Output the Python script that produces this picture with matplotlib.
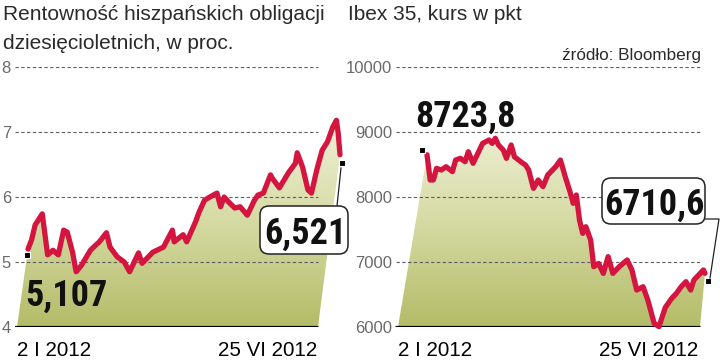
import matplotlib
matplotlib.use("Agg")
import matplotlib.pyplot as plt
import matplotlib.transforms as mtransforms
import numpy as np
from matplotlib.colors import LinearSegmentedColormap
from matplotlib.patches import Polygon, FancyBboxPatch
from matplotlib.lines import Line2D

W, H = 720, 362

# days counted from 2 I 2012
bond_days = [0, 2, 4, 8, 11, 14, 17, 20, 22, 25, 27, 30, 35, 38, 40, 44, 46, 50,
             54, 57, 62, 64, 70, 76, 81, 82, 87, 89, 94, 96, 99, 102, 106, 108,
             110, 113, 116, 119, 123, 127, 129, 132, 136, 137, 141, 146, 150,
             151, 154, 157, 159, 162, 165, 168, 171, 173, 174, 175]
bond_yield = [5.20, 5.34, 5.57, 5.74, 5.11, 5.18, 5.11, 5.49, 5.46, 5.15, 4.85,
              4.95, 5.18, 5.26, 5.31, 5.45, 5.23, 5.08, 5.00, 4.85, 5.14, 4.98,
              5.15, 5.23, 5.49, 5.31, 5.42, 5.31, 5.62, 5.77, 5.95, 6.00, 6.06,
              5.85, 6.00, 5.91, 5.83, 5.85, 5.72, 5.95, 6.03, 6.06, 6.34, 6.29,
              6.14, 6.37, 6.52, 6.68, 6.46, 6.11, 6.06, 6.42, 6.72, 6.85, 7.08,
              7.18, 6.98, 6.65]

ibex_days = [0, 2, 4, 6, 9, 12, 16, 18, 21, 24, 26, 29, 31, 35, 39, 41, 43, 45,
             48, 50, 53, 55, 59, 62, 64, 67, 70, 73, 76, 79, 81, 84, 87, 90, 92,
             94, 96, 98, 100, 103, 105, 108, 111, 114, 117, 121, 126, 129, 132,
             136, 139, 143, 146, 150, 154, 157, 160, 163, 166, 168, 171, 174, 175]
ibex_pts = [8650, 8262, 8262, 8441, 8415, 8466, 8390, 8569, 8595, 8543, 8697,
            8518, 8620, 8825, 8877, 8825, 8903, 8800, 8723, 8595, 8800, 8620,
            8543, 8492, 8415, 8133, 8262, 8159, 8338, 8415, 8466, 8569, 8313,
            8082, 7903, 8031, 7646, 7441, 7543, 7338, 6928, 6979, 6825, 7082,
            6825, 6928, 7031, 6877, 6569, 6620, 6415, 6056, 6005, 6300, 6440,
            6518, 6620, 6697, 6569, 6723, 6800, 6877, 6826]

bond_ticks = [4, 5, 6, 7, 8]
ibex_ticks = [6000, 7000, 8000, 9000, 10000]
bond_first, bond_last = "5,107", "6,521"
ibex_first, ibex_last = "8723,8", "6710,6"
bond_first_v, bond_last_v = 5.107, 6.521
ibex_first_v, ibex_last_v = 8723.8, 6710.6
date_first, date_last = "2 I 2012", "25 VI 2012"

RED = "#d3153f"
GREY = "#6a6a6a"
REG = ["Liberation Sans", "DejaVu Sans"]
NARROW = ["Roboto Condensed", "Archivo Narrow", "DejaVu Sans"]

fill_cmap = LinearSegmentedColormap.from_list(
    "olive", [(0, "#b4bc68"), (0.45, "#d9ddaa"), (1, "#fcfcf4")])

fig = plt.figure(figsize=(7.2, 3.62), dpi=100)
px = mtransforms.IdentityTransform()


def fx(x):
    return x / W


def fy(y):
    return 1 - y / H


def panel(ax_l, ax_r, d0_px, d1_px, grid_l, grid_r, days, vals, ticks, pad):
    ax = fig.add_axes([fx(ax_l), fy(327), (ax_r - ax_l) / W, 260 / H])
    k = (d1_px - d0_px) / 175.0
    day = lambda p: (p - d0_px) / k
    x0, x1 = day(ax_l), day(ax_r)
    g0, g1 = day(grid_l), day(grid_r)
    lo, hi = ticks[0], ticks[-1]

    # gradient area under the line
    verts = [(day(grid_l + 2), lo)] + list(zip(days, vals)) + [(g1, lo)]
    poly = Polygon(verts, closed=True, facecolor="none", edgecolor="none")
    ax.add_patch(poly)
    grad = np.linspace(0, 1, 256).reshape(-1, 1)
    im = ax.imshow(grad, extent=[x0, x1, lo, hi], origin="lower",
                   aspect="auto", cmap=fill_cmap, zorder=1)
    im.set_clip_path(poly)

    ax.hlines(ticks[1:], g0, g1, colors="#5e5e5e", linestyles=(0, (3, 2.2)),
              linewidth=0.8, zorder=2)
    ax.hlines([lo], day(grid_l - 1), g1, colors="black", linewidth=2.3,
              zorder=3)
    ax.plot(days, vals, color=RED, lw=3.8, solid_joinstyle="round",
            solid_capstyle="round", zorder=4, clip_on=False)

    ax.set_xlim(x0, x1)
    ax.set_ylim(lo, hi)
    ax.set_yticks(ticks)
    ax.set_yticklabels([str(t) for t in ticks], color=GREY, fontsize=12,
                       family=REG)
    ax.tick_params(axis="y", length=0, pad=pad)
    ax.set_xticks([])
    for s in ax.spines.values():
        s.set_visible(False)
    ax.patch.set_alpha(0)
    return ax


ax1 = panel(15, 350, 28, 340, 15, 318, bond_days, bond_yield, bond_ticks, 2.9)
ax2 = panel(394, 716, 427, 705, 396, 700, ibex_days, ibex_pts, ibex_ticks, 1.4)


def marker(ax, x, y, dx):
    tr = mtransforms.offset_copy(ax.transData, fig=fig, x=dx, y=0, units="dots")
    ax.plot([x], [y], marker="s", ms=5, color="black", mec="white", mew=0.8,
            transform=tr, zorder=6, clip_on=False)


marker(ax1, bond_days[0], bond_first_v, -1)
marker(ax1, bond_days[-1], bond_last_v, 2)
marker(ax2, ibex_days[0], ibex_first_v, -5)
marker(ax2, ibex_days[-1], ibex_last_v, 3)

# titles
fig.text(fx(3), fy(20), "Rentowność hiszpańskich obligacji", fontsize=15,
         family=REG, color="#2a2a2a", va="baseline")
fig.text(fx(3), fy(49), "dziesięcioletnich, w proc.", fontsize=15,
         family=REG, color="#2a2a2a", va="baseline")
fig.text(fx(348), fy(20), "Ibex 35, kurs w pkt", fontsize=15,
         family=REG, color="#2a2a2a", va="baseline")
fig.text(fx(701), fy(60), "źródło: Bloomberg", fontsize=12.3,
         family=REG, color="#2a2a2a", va="baseline", ha="right")

# dates
for l, r in [(17, 317), (398, 698)]:
    fig.text(fx(l), fy(356), date_first, fontsize=14.8, family=REG,
             color="black", va="baseline")
    fig.text(fx(r), fy(356), date_last, fontsize=14.8, family=REG,
             color="black", va="baseline", ha="right")

# value labels
big = dict(fontsize=26, family=NARROW, weight="bold", color="#111111")
fig.text(fx(25), fy(306), bond_first, va="baseline", **big)
fig.text(fx(415), fy(127), ibex_first, va="baseline", **big)

for (bx0, by0, bx1, by1, txt) in [(260, 206, 348, 254, bond_last),
                                  (602, 178, 705, 224, ibex_last)]:
    box = FancyBboxPatch((bx0, H - by1), bx1 - bx0, by1 - by0,
                         boxstyle="round,pad=0,rounding_size=9",
                         transform=px, facecolor="white", edgecolor="#222222",
                         linewidth=1.1, zorder=7)
    fig.add_artist(box)
    fig.text(fx((bx0 + bx1) / 2 + 1), fy((by0 + by1) / 2), txt, ha="center",
             va="center_baseline", zorder=8, **big)

# leader lines
fig.add_artist(Line2D([341, 337], [H - 168, H - 206], transform=px,
                      color="#222222", lw=0.9))
fig.add_artist(Line2D([705, 719, 710], [H - 219, H - 219, H - 278],
                      transform=px, color="#222222", lw=0.9))

fig.savefig("out.png", dpi=100)
